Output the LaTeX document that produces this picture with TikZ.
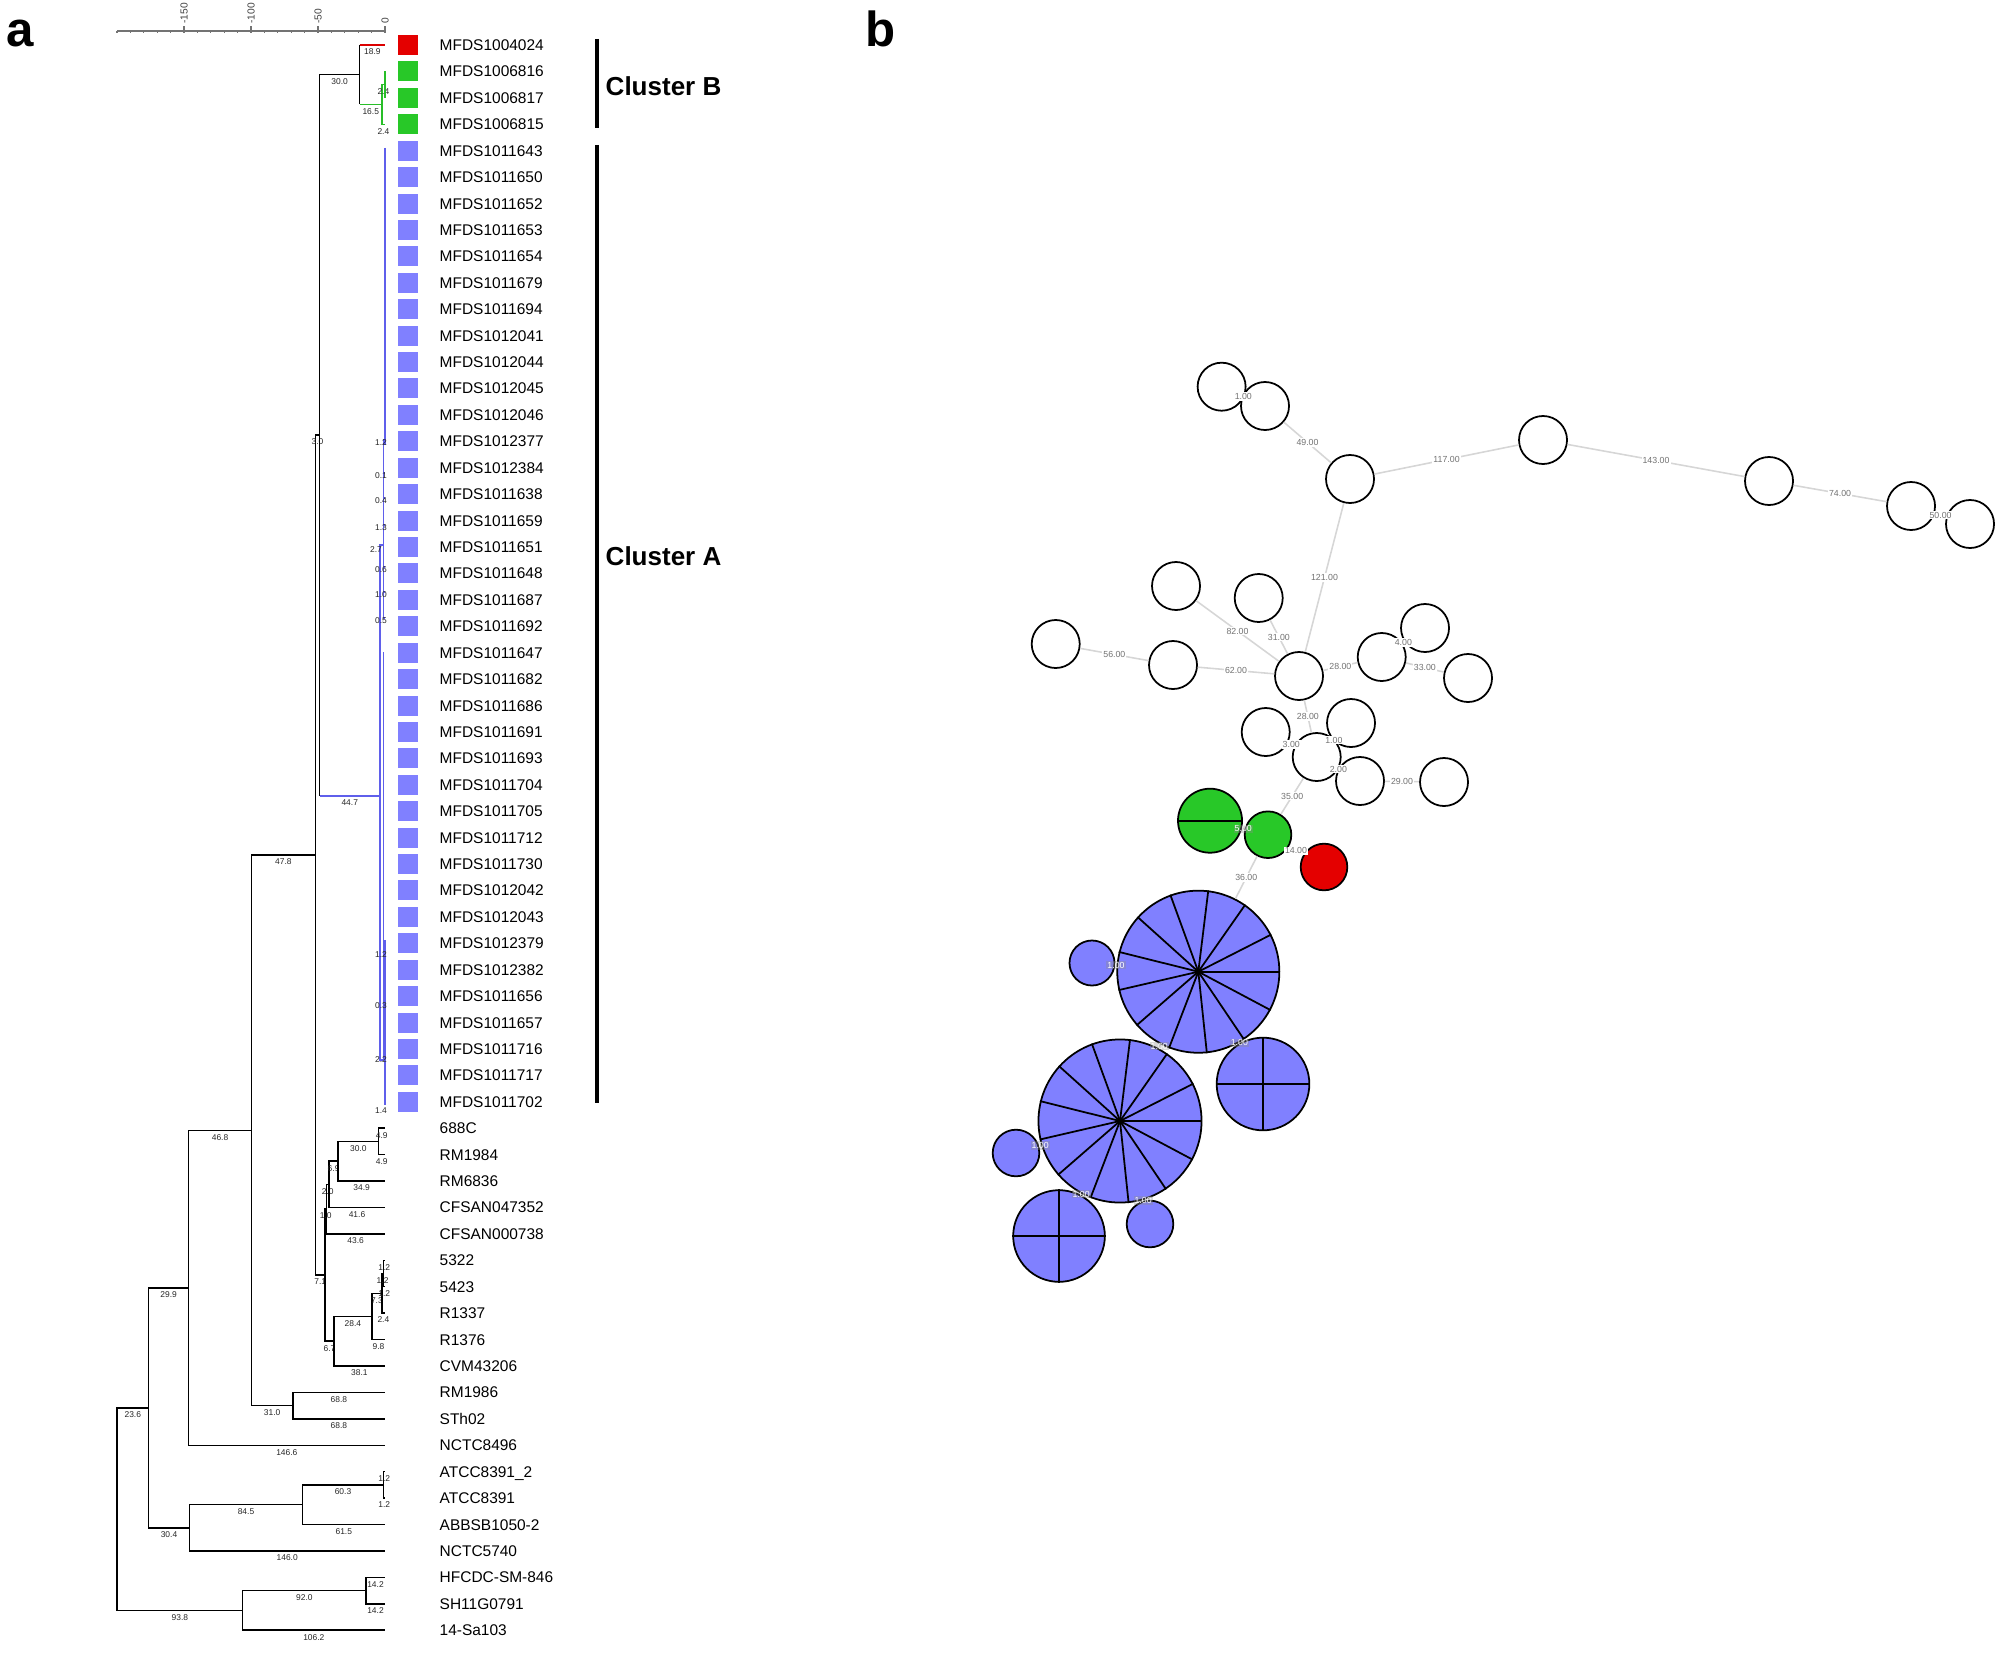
\documentclass[tikz,border=0pt]{standalone}
\usepackage{fontspec}
\setmainfont{Liberation Sans}
\newcommand{\fLeaf}{\fontsize{4.4pt}{5pt}\selectfont}
\newcommand{\fTiny}{\fontsize{2.4pt}{2.8pt}\selectfont}
\newcommand{\fScale}{\fontsize{2.9pt}{3.2pt}\selectfont}
\newcommand{\fNet}{\fontsize{2.5pt}{3pt}\selectfont}
\newcommand{\fClus}{\fontsize{7.4pt}{9pt}\selectfont\bfseries}
\newcommand{\fPanel}{\fontsize{14pt}{16pt}\selectfont\bfseries}
\definecolor{sqred}{RGB}{228,0,0}
\definecolor{sqgreen}{RGB}{40,200,40}
\definecolor{sqblue}{RGB}{128,128,255}
\definecolor{lnblue}{RGB}{95,95,235}
\definecolor{lngreen}{RGB}{40,190,40}
\definecolor{lnred}{RGB}{220,0,0}
\newcommand{\br}[3]{\draw[tk] (#1) |- node[lbl,pos=0.75]{#3} (#2);}
\begin{document}
\begin{tikzpicture}[x=0.01cm,y=-0.01cm,
  tk/.style={line width=0.42pt},
  bl/.style={line width=0.42pt, draw=lnblue},
  lbl/.style={font=\fTiny, text=black!85, inner sep=0pt, anchor=north, yshift=-0.9pt},
  albl/.style={font=\fTiny, text=black!85, inner sep=0pt},
  leaf/.style={font=\fLeaf, anchor=base west, inner sep=0pt},
  sqr/.style={minimum size=0.2cm, inner sep=0pt, draw=none},
  wc/.style={circle, draw=black, fill=white, line width=0.5pt, minimum size=0.48cm, inner sep=0pt},
  pc/.style={circle, draw=black, line width=0.5pt, inner sep=0pt},
  edge/.style={draw=black!16, line width=0.45pt},
  nl/.style={font=\fNet, text=black!55, fill=white, inner sep=0.3pt},
  nlw/.style={font=\fNet, text=white, fill=black!45, fill opacity=0.35, text opacity=1, inner sep=0.3pt},
  spoke/.style={line width=0.5pt, draw=black}]
\useasboundingbox (0,0) rectangle (2007,1652);

% panel letters
\node[font=\fPanel, anchor=base west, inner sep=0pt] (pa) at (6,47) {a};
\node[font=\fPanel, anchor=base west, inner sep=0pt] (pb) at (865,47) {b};

% scale bar
\coordinate (sb0) at (117,31);
\coordinate (sb1) at (385,31);
\draw[black!55, line width=0.35pt] (sb0) -- (sb1);
\foreach \k in {0,...,20} \draw[black!55, line width=0.3pt] ({385-13.4*\k},31) -- ++(0,2);
\foreach \k/\t in {0/0,5/-50,10/-100,15/-150}{
  \draw[black!55, line width=0.35pt] ({385-13.4*\k},31) -- ++(0,-4.5);
  \node[rotate=90, anchor=west, font=\fScale, text=black!75, inner sep=0.5pt] (sc\k) at ({385-13.4*\k},26) {\t};
}

% leaves
\foreach \nm [count=\i from 0] in {MFDS1004024,MFDS1006816,MFDS1006817,MFDS1006815,
 MFDS1011643,MFDS1011650,MFDS1011652,MFDS1011653,MFDS1011654,MFDS1011679,MFDS1011694,
 MFDS1012041,MFDS1012044,MFDS1012045,MFDS1012046,MFDS1012377,MFDS1012384,MFDS1011638,
 MFDS1011659,MFDS1011651,MFDS1011648,MFDS1011687,MFDS1011692,MFDS1011647,MFDS1011682,
 MFDS1011686,MFDS1011691,MFDS1011693,MFDS1011704,MFDS1011705,MFDS1011712,MFDS1011730,
 MFDS1012042,MFDS1012043,MFDS1012379,MFDS1012382,MFDS1011656,MFDS1011657,MFDS1011716,
 MFDS1011717,MFDS1011702,688C,RM1984,RM6836,CFSAN047352,CFSAN000738,5322,5423,R1337,
 R1376,CVM43206,RM1986,STh02,NCTC8496,ATCC8391\_2,ATCC8391,ABBSB1050-2,NCTC5740,
 HFCDC-SM-846,SH11G0791,14-Sa103}{
  \node[leaf] (t\i) at (439,{45+26.42*\i+5.5}) {\nm};
  \coordinate (l\i) at (385,{45+26.42*\i});
}
% colour squares
\node[sqr, fill=sqred] (sq0) at (408,45) {};
\foreach \i in {1,2,3} \node[sqr, fill=sqgreen] (sq\i) at (408,{45+26.42*\i}) {};
\foreach \i in {4,...,40} \node[sqr, fill=sqblue] (sq\i) at (408,{45+26.42*\i}) {};

% cluster bars
\coordinate (cb0) at (597,39); \coordinate (cb1) at (597,128);
\coordinate (ca0) at (597,145); \coordinate (ca1) at (597,1103);
\draw[line width=0.9pt] (cb0) -- (cb1);
\draw[line width=0.9pt] (ca0) -- (ca1);
\node[font=\fClus, anchor=base west, inner sep=0pt] (cB) at (605,96) {Cluster B};
\node[font=\fClus, anchor=base west, inner sep=0pt] (cA) at (605,565) {Cluster A};

% internal nodes
\coordinate (Root) at (117,1509.1);
\coordinate (N1) at (148.6,1407.8);
\coordinate (NH) at (242.7,1610.4);
\coordinate (HP) at (366.0,1590.6);
\coordinate (N2) at (188.7,1287.8);
\coordinate (N3) at (189.4,1527.8);
\coordinate (AT) at (302.6,1504.7);
\coordinate (AP) at (383.4,1484.9);
\coordinate (N4) at (251.4,1130.4);
\coordinate (RS) at (292.8,1405.6);
\coordinate (N5) at (315.5,855.1);
\coordinate (NBA) at (319.5,435);
\coordinate (Bn) at (359.7,74.7);
\coordinate (G0) at (381.8,104.4);
\coordinate (G1) at (385,84.6);
\coordinate (AR) at (380,796);
\coordinate (S) at (325.0,1275.2);
\coordinate (S1) at (326.3,1209.1);
\coordinate (S2) at (333.9,1341.2);
\coordinate (S3) at (372.0,1316.5);
\coordinate (S4) at (381.8,1293.3);
\coordinate (S5) at (383.4,1273.5);
\coordinate (S6) at (329.0,1184.4);
\coordinate (S7) at (338.2,1161.2);
\coordinate (S8) at (378.4,1141.4);

% black branches
\br{Root}{N1}{23.6}
\br{Root}{NH}{93.8}
\br{NH}{HP}{92.0}
\br{NH}{l60}{106.2}
\br{HP}{l58}{14.2}
\br{HP}{l59}{14.2}
\br{N1}{N2}{29.9}
\br{N1}{N3}{30.4}
\br{N3}{AT}{84.5}
\br{N3}{l57}{146.0}
\br{AT}{AP}{60.3}
\br{AT}{l56}{61.5}
\br{AP}{l54}{1.2}
\br{AP}{l55}{1.2}
\br{N2}{N4}{46.8}
\br{N2}{l53}{146.6}
\br{N4}{N5}{47.8}
\br{N4}{RS}{31.0}
\br{RS}{l51}{68.8}
\br{RS}{l52}{68.8}
\br{N5}{NBA}{3.0}
\br{N5}{S}{7.1}
\br{S}{S1}{1.0}
\br{S}{S2}{6.7}
\br{S1}{S6}{2.0}
\br{S1}{l45}{43.6}
\br{S6}{S7}{6.9}
\br{S6}{l44}{41.6}
\br{S7}{S8}{30.0}
\br{S7}{l43}{34.9}
\br{S8}{l41}{4.9}
\br{S8}{l42}{4.9}
\br{S2}{S3}{28.4}
\br{S2}{l50}{38.1}
\br{S3}{S4}{7.3}
\br{S3}{l49}{9.8}
\br{S4}{S5}{1.2}
\br{S4}{l48}{2.4}
\br{S5}{l46}{1.2}
\br{S5}{l47}{1.2}
\br{NBA}{Bn}{30.0}

% cluster B (coloured)
\draw[tk] (Bn) -- (Bn|-l0);
\draw[tk, draw=lnred] (Bn|-l0) -- node[lbl]{18.9} (l0);
\draw[tk] (Bn) -- (Bn|-G0);
\draw[tk, draw=lngreen] (Bn|-G0) -- node[lbl]{16.5} (G0);
\draw[tk, draw=lngreen] (G0) |- node[lbl,pos=0.75]{2.4} (G1);
\draw[tk, draw=lngreen] (G0) |- node[lbl,pos=0.75]{2.4} (l3);
\draw[tk, draw=lngreen] (l1) -- (l2);

% cluster A (blue)
\draw[tk] (NBA) -- (NBA|-AR);
\draw[bl] (NBA|-AR) -- node[lbl]{44.7} (AR);
\coordinate (Au) at (383.3,545);
\coordinate (Ad) at (383.3,1060);
\draw[bl] (AR) -- (AR|-Au) -- (Au);
\draw[bl] (AR) -- (AR|-Ad) -- (Ad);
\draw[bl] (385,148) -- (385,445);
\draw[bl] (383.3,440) -- (383.3,618);
\draw[bl] (383.3,652) -- (383.3,1060);
\draw[bl] (385,940) -- (385,1105);
\foreach \y in {440,473,498,525,567,592,618,952,1003,1057} \draw[bl] (383.3,\y) -- (385,\y);
\foreach \y/\t [count=\j] in {440/1.2,473/0.1,498/0.4,525/1.3,567/0.6,592/1.0,618/0.5,952/1.2,1003/0.3,1057/2.2,1108/1.4}
  \node[albl] (ca\j) at (381,{\y+3}) {\t};
\node[albl] (ca0) at (376,550) {2.7};

% ---------------- panel b: network ----------------
\node[wc] (wA) at (1221.6,386.7) {};
\node[wc] (wB) at (1265,406) {};
\node[wc] (wC) at (1350,479) {};
\node[wc] (wD) at (1543,440) {};
\node[wc] (wE) at (1769,481) {};
\node[wc] (wF) at (1911,506) {};
\node[wc] (wG) at (1970,524) {};
\node[wc] (wH) at (1176,586) {};
\node[wc] (wI) at (1258.7,598) {};
\node[wc] (wJ) at (1055.7,644) {};
\node[wc] (wK) at (1173,665) {};
\node[wc] (wL) at (1299,676) {};
\node[wc] (wM) at (1381.7,657) {};
\node[wc] (wN) at (1425,628) {};
\node[wc] (wO) at (1468,678) {};
\node[wc] (wP) at (1265.7,732) {};
\node[wc] (wR) at (1351,723) {};
\node[wc] (wS) at (1360,781) {};
\node[wc] (wQ) at (1316.7,757) {};
\node[wc] (wT) at (1444,782) {};

\node[pc, fill=sqgreen, minimum size=0.64cm] (gB) at (1210,820.7) {};
\node[pc, fill=sqgreen, minimum size=0.466cm] (gS) at (1268,834.7) {};
\node[pc, fill=sqred, minimum size=0.466cm] (rd) at (1324,867) {};
\draw[spoke] (gB.west) -- (gB.east);

\node[pc, fill=sqblue, minimum size=0.45cm] (bs1) at (1092,963) {};
\node[pc, fill=sqblue, minimum size=0.926cm] (bq1) at (1263,1084) {};
\node[pc, fill=sqblue, minimum size=0.466cm] (bs2) at (1016,1153) {};
\node[pc, fill=sqblue, minimum size=0.916cm] (bq2) at (1059,1236) {};
\node[pc, fill=sqblue, minimum size=0.466cm] (bs3) at (1150,1224) {};
\node[pc, fill=sqblue, minimum size=1.62cm] (b1) at (1198.3,971.7) {};
\node[pc, fill=sqblue, minimum size=1.63cm] (b2) at (1120,1121) {};
\foreach \k in {0,...,12}{
  \pgfmathsetmacro\ang{\k*360/13}
  \draw[spoke] (b1.center) -- (b1.\ang);
  \draw[spoke] (b2.center) -- (b2.\ang);
}
\fill (b1.center) circle[radius=0.03cm];
\fill (b2.center) circle[radius=0.03cm];
\draw[spoke] (bq1.north) -- (bq1.south);
\draw[spoke] (bq1.west) -- (bq1.east);
\draw[spoke] (bq2.north) -- (bq2.south);
\draw[spoke] (bq2.west) -- (bq2.east);

% edges
\draw[edge] (wA) -- node[nl]{1.00} (wB);
\draw[edge] (wB) -- node[nl]{49.00} (wC);
\draw[edge] (wC) -- node[nl]{117.00} (wD);
\draw[edge] (wD) -- node[nl]{143.00} (wE);
\draw[edge] (wE) -- node[nl]{74.00} (wF);
\draw[edge] (wF) -- node[nl]{50.00} (wG);
\draw[edge] (wC) -- node[nl]{121.00} (wL);
\draw[edge] (wH) -- node[nl]{82.00} (wL);
\draw[edge] (wI) -- node[nl]{31.00} (wL);
\draw[edge] (wJ) -- node[nl]{56.00} (wK);
\draw[edge] (wK) -- node[nl]{62.00} (wL);
\draw[edge] (wL) -- node[nl]{28.00} (wM);
\draw[edge] (wM) -- node[nl]{4.00} (wN);
\draw[edge] (wM) -- node[nl]{33.00} (wO);
\draw[edge] (wL) -- node[nl]{28.00} (wQ);
\draw[edge] (wP) -- node[nl]{3.00} (wQ);
\draw[edge] (wQ) -- node[nl]{1.00} (wR);
\draw[edge] (wQ) -- node[nl]{2.00} (wS);
\draw[edge] (wS) -- node[nl]{29.00} (wT);
\draw[edge] (wQ) -- node[nl]{35.00} (gS);
\draw[edge] (gB) -- node[nlw]{5.00} (gS);
\draw[edge] (gS) -- node[nl]{14.00} (rd);
\draw[edge] (gS) -- node[nl]{36.00} (b1);
\draw[edge] (b1) -- node[nlw]{1.00} (bs1);
\draw[edge] (b1) -- node[nlw]{1.00} (b2);
\draw[edge] (b1) -- node[nlw]{1.00} (bq1);
\draw[edge] (b2) -- node[nlw]{1.00} (bs2);
\draw[edge] (b2) -- node[nlw]{1.00} (bq2);
\draw[edge] (b2) -- node[nlw]{1.00} (bs3);
\end{tikzpicture}
\end{document}
